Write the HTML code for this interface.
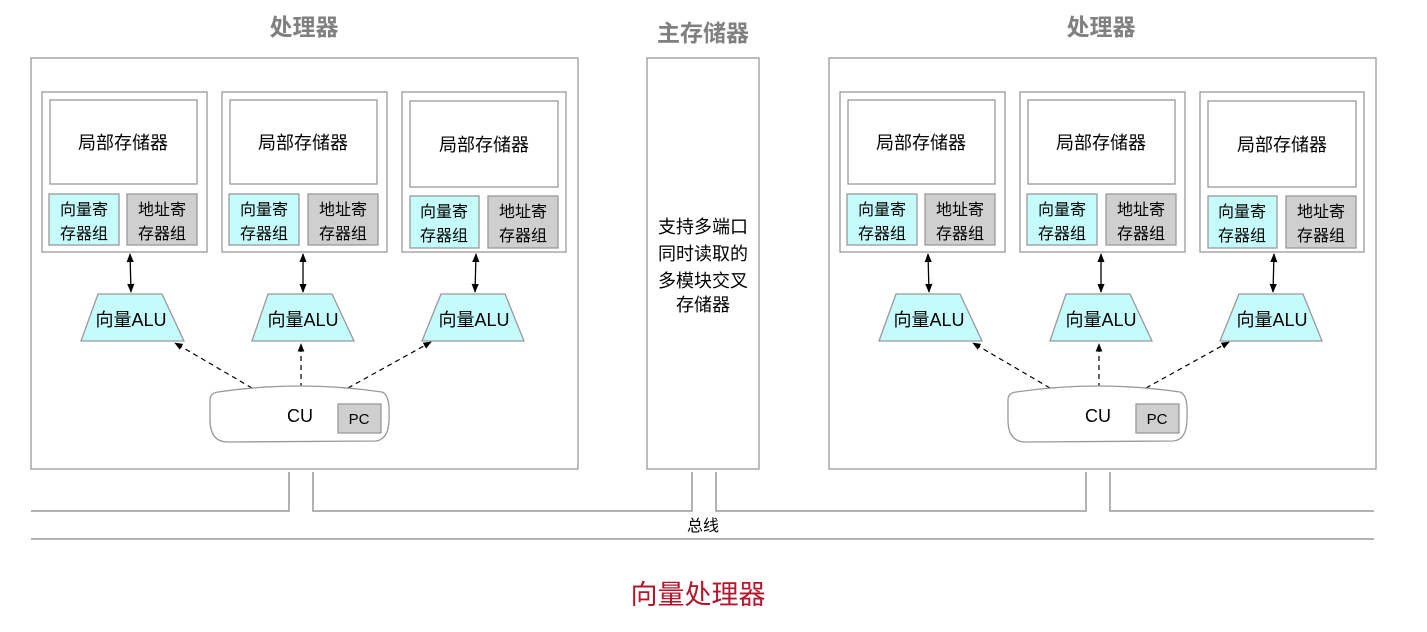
<!DOCTYPE html>
<html><head><meta charset="utf-8"><style>
html,body{margin:0;padding:0;background:#fff;width:1427px;height:632px;overflow:hidden}
text{font-family:"Liberation Sans","Noto Sans CJK SC",sans-serif}
</style></head><body>
<svg width="1427" height="632" viewBox="0 0 1427 632" xmlns="http://www.w3.org/2000/svg">
<defs>
<marker id="ah" viewBox="0 0 10 10" refX="9" refY="5" markerWidth="7" markerHeight="7" orient="auto-start-reverse"><path d="M0,1 L10,5 L0,9 z" fill="#000"/></marker>
<g id="proc">
  <rect x="31" y="58" width="547" height="411" fill="#fff" stroke="#999" stroke-width="1.3"/>
  <rect x="42" y="92" width="165" height="160" fill="#fff" stroke="#999" stroke-width="1.3"/>
  <rect x="50" y="100" width="147" height="84" fill="#fff" stroke="#999" stroke-width="1.3"/>
  <text x="123" y="149" font-size="18" text-anchor="middle">局部存储器</text>
  <rect x="49" y="194" width="70" height="51" fill="#c6fbfc" stroke="#999" stroke-width="1.3"/>
  <rect x="127" y="194" width="70" height="51" fill="#cfcfcf" stroke="#999" stroke-width="1.3"/>
  <text x="84" y="215" font-size="16" text-anchor="middle">向量寄</text><text x="84" y="239" font-size="16" text-anchor="middle">存器组</text>
  <text x="162" y="215" font-size="16" text-anchor="middle">地址寄</text><text x="162" y="239" font-size="16" text-anchor="middle">存器组</text>
  <rect x="222" y="92" width="165" height="160" fill="#fff" stroke="#999" stroke-width="1.3"/>
  <rect x="230" y="100" width="147" height="84" fill="#fff" stroke="#999" stroke-width="1.3"/>
  <text x="303" y="149" font-size="18" text-anchor="middle">局部存储器</text>
  <rect x="229" y="194" width="70" height="51" fill="#c6fbfc" stroke="#999" stroke-width="1.3"/>
  <rect x="308" y="194" width="70" height="51" fill="#cfcfcf" stroke="#999" stroke-width="1.3"/>
  <text x="264" y="215" font-size="16" text-anchor="middle">向量寄</text><text x="264" y="239" font-size="16" text-anchor="middle">存器组</text>
  <text x="343" y="215" font-size="16" text-anchor="middle">地址寄</text><text x="343" y="239" font-size="16" text-anchor="middle">存器组</text>
  <rect x="402" y="92" width="164" height="160" fill="#fff" stroke="#999" stroke-width="1.3"/>
  <rect x="410" y="101" width="148" height="86" fill="#fff" stroke="#999" stroke-width="1.3"/>
  <text x="484" y="151" font-size="18" text-anchor="middle">局部存储器</text>
  <rect x="410" y="196" width="69" height="52" fill="#c6fbfc" stroke="#999" stroke-width="1.3"/>
  <rect x="488" y="196" width="70" height="52" fill="#cfcfcf" stroke="#999" stroke-width="1.3"/>
  <text x="444" y="217" font-size="16" text-anchor="middle">向量寄</text><text x="444" y="241" font-size="16" text-anchor="middle">存器组</text>
  <text x="523" y="217" font-size="16" text-anchor="middle">地址寄</text><text x="523" y="241" font-size="16" text-anchor="middle">存器组</text>
  <polygon points="98,294 162,294 184,341 81,341" fill="#c6fbfc" stroke="#999" stroke-width="1.3"/>
  <text x="131" y="326" font-size="18" text-anchor="middle">向量ALU</text>
  <polygon points="268,294 332,294 354,341 252,341" fill="#c6fbfc" stroke="#999" stroke-width="1.3"/>
  <text x="303" y="326" font-size="18" text-anchor="middle">向量ALU</text>
  <polygon points="441,294 505,294 524,341 422,341" fill="#c6fbfc" stroke="#999" stroke-width="1.3"/>
  <text x="474" y="326" font-size="18" text-anchor="middle">向量ALU</text>
  <line x1="130" y1="254" x2="131" y2="292" stroke="#000" stroke-width="1.3" marker-start="url(#ah)" marker-end="url(#ah)"/>
  <line x1="303" y1="254" x2="303" y2="292" stroke="#000" stroke-width="1.3" marker-start="url(#ah)" marker-end="url(#ah)"/>
  <line x1="476" y1="254" x2="475" y2="292" stroke="#000" stroke-width="1.3" marker-start="url(#ah)" marker-end="url(#ah)"/>
  <line x1="252" y1="388" x2="175" y2="343" stroke="#000" stroke-width="1.2" stroke-dasharray="5,4" marker-end="url(#ah)"/>
  <line x1="301" y1="388" x2="301" y2="344" stroke="#000" stroke-width="1.2" stroke-dasharray="5,4" marker-end="url(#ah)"/>
  <line x1="348" y1="388" x2="431" y2="342" stroke="#000" stroke-width="1.2" stroke-dasharray="5,4" marker-end="url(#ah)"/>
  <path d="M218,392 Q300,380 382,392 Q390,395 389,415 Q390,440 375,441 L228,442 Q210,442 210,420 L210,400 Q210,393 218,392 Z" fill="#fff" stroke="#999" stroke-width="1.3"/>
  <text x="300" y="422" font-size="18" text-anchor="middle">CU</text>
  <rect x="338" y="404" width="43" height="29" fill="#cfcfcf" stroke="#999" stroke-width="1.3"/>
  <text x="359" y="424" font-size="15" text-anchor="middle">PC</text>
</g>
</defs>
<g font-size="23" font-weight="bold" fill="#808080" text-anchor="middle">
<text x="304" y="35">处理器</text>
<text x="703" y="41">主存储器</text>
<text x="1101" y="35">处理器</text>
</g>
<use href="#proc"/>
<use href="#proc" transform="translate(798,0)"/>
<rect x="647" y="58" width="112" height="411" fill="#fff" stroke="#999" stroke-width="1.3"/>
<g font-size="18" text-anchor="middle">
<text x="703" y="233">支持多端口</text>
<text x="703" y="260">同时读取的</text>
<text x="703" y="287">多模块交叉</text>
<text x="703" y="311">存储器</text>
</g>
<g stroke="#999" stroke-width="1.5" fill="none">
<path d="M31,511 L289,511 L289,472 M313,472 L313,511 L692,511 L692,472 M716,472 L716,511 L1086,511 L1086,472 M1110,472 L1110,511 L1374,511"/>
<line x1="31" y1="539" x2="1374" y2="539"/>
</g>
<text x="703" y="531" font-size="16" text-anchor="middle">总线</text>
<text x="698" y="604" font-size="27" fill="#b5162b" text-anchor="middle">向量处理器</text>
</svg>
</body></html>
